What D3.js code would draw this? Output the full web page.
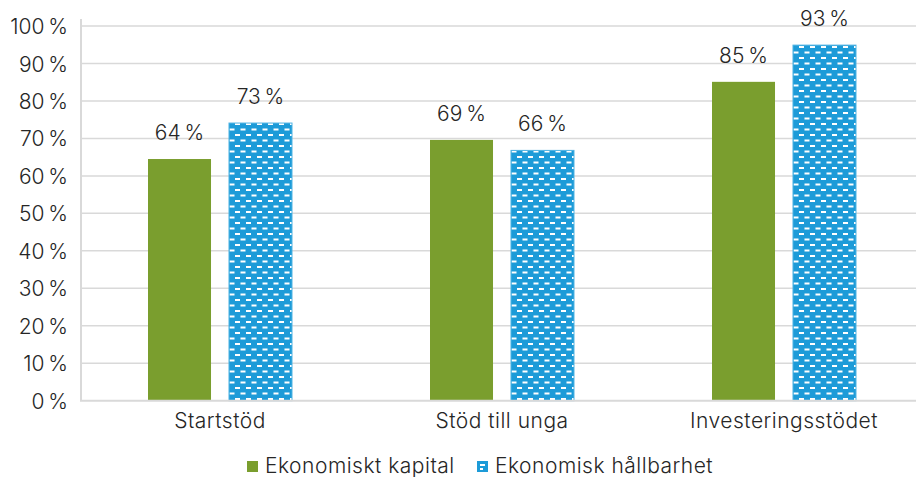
<!DOCTYPE html>
<html><head><meta charset="utf-8">
<script src="https://cdn.jsdelivr.net/npm/d3@7"></script>
<style>
html,body{margin:0;padding:0;background:#fff;}
svg{display:block;font-family:Inter,sans-serif;font-weight:300;}
</style></head>
<body>
<svg id="chart" width="916" height="477"></svg>
<script>
const categories = ["Startstöd", "Stöd till unga", "Investeringsstödet"];
const seriesNames = ["Ekonomiskt kapital", "Ekonomisk hållbarhet"];
const kapitalValues = [64.5, 69.6, 85.1];
const hallbarhetValues = [74.1, 66.8, 94.9];
const kapitalLabels = ["64\u202F%", "69\u202F%", "85\u202F%"];
const hallbarhetLabels = ["73\u202F%", "66\u202F%", "93\u202F%"];
const yTicks = [0, 10, 20, 30, 40, 50, 60, 70, 80, 90, 100];

const FONT = "Inter, sans-serif", FS = 21, LS = 0.5;
const svg = d3.select("#chart");
const green = "#7a9e2e", blue = "#1d9bd8", txt = "#262626", grid = "#d9d9d9";

const defs = svg.append("defs");
const pat = defs.append("pattern").attr("id", "dash").attr("patternUnits", "userSpaceOnUse")
  .attr("width", 11).attr("height", 11);
pat.append("rect").attr("width", 11).attr("height", 11).attr("fill", blue);
pat.append("rect").attr("x", 2).attr("y", 2).attr("width", 5).attr("height", 2).attr("fill", "#fff");
pat.append("rect").attr("x", 7.5).attr("y", 7.5).attr("width", 5).attr("height", 2).attr("fill", "#fff");
pat.append("rect").attr("x", -3.5).attr("y", 7.5).attr("width", 5).attr("height", 2).attr("fill", "#fff");

const x0 = d3.scaleBand().domain(categories).range([79, 925]).paddingInner(0).paddingOuter(0);
const x1 = d3.scaleBand().domain(seriesNames).range([69, 213]).paddingInner(0.222).paddingOuter(0);
const y = d3.scaleLinear().domain([0, 100]).range([400.7, 26]);

// gridlines
svg.append("g").selectAll("line").data(yTicks.filter(d => d > 0)).join("line")
  .attr("x1", 81).attr("x2", 916).attr("y1", d => y(d)).attr("y2", d => y(d))
  .attr("stroke", grid).attr("stroke-width", 1.5);

// y axis labels
const yAxis = d3.axisLeft(y).tickValues(yTicks).tickFormat(d => d + "\u202F%").tickSize(0).tickPadding(0);
const ya = svg.append("g").attr("transform", "translate(68,0)").call(yAxis);
ya.select(".domain").remove();
ya.selectAll("text").attr("font-size", FS).attr("fill", txt).attr("font-family", FONT)
  .attr("font-weight", 300).attr("letter-spacing", LS).attr("dy", "0.36em");

const data = categories.map((c, i) => ({cat: c, vals: [
  {s: seriesNames[0], v: kapitalValues[i], label: kapitalLabels[i]},
  {s: seriesNames[1], v: hallbarhetValues[i], label: hallbarhetLabels[i]}
]}));

const g = svg.append("g").selectAll("g").data(data).join("g")
  .attr("transform", d => `translate(${x0(d.cat)},0)`);
g.selectAll("rect").data(d => d.vals).join("rect")
  .attr("x", d => x1(d.s)).attr("width", x1.bandwidth())
  .attr("y", d => y(d.v)).attr("height", d => y(0) - y(d.v))
  .attr("fill", d => d.s === seriesNames[0] ? green : "url(#dash)")
  .attr("stroke", d => d.s === seriesNames[0] ? "none" : "#4fb3e3")
  .attr("stroke-width", 1);
g.selectAll("text").data(d => d.vals).join("text")
  .attr("x", d => x1(d.s) + x1.bandwidth() / 2).attr("y", d => y(d.v) - 19)
  .attr("text-anchor", "middle").attr("font-size", FS).attr("letter-spacing", LS).attr("fill", txt)
  .text(d => d.label);

// axis lines
svg.append("line").attr("x1", 81).attr("x2", 81).attr("y1", 19).attr("y2", y(0))
  .attr("stroke", grid).attr("stroke-width", 2);
svg.append("line").attr("x1", 80).attr("x2", 916).attr("y1", y(0)).attr("y2", y(0))
  .attr("stroke", grid).attr("stroke-width", 2);

// x axis labels
const xAxis = d3.axisBottom(x0).tickSize(0).tickPadding(0);
const xa = svg.append("g").attr("transform", "translate(0,428)").call(xAxis);
xa.select(".domain").remove();
xa.selectAll("text").attr("font-size", FS).attr("fill", txt).attr("font-family", FONT)
  .attr("font-weight", 300).attr("letter-spacing", LS).attr("dy", 0);

// legend
const legend = svg.append("g");
const legItems = [{name: seriesNames[0], fill: green, x: 247}, {name: seriesNames[1], fill: "url(#dash)", x: 477}];
const li = legend.selectAll("g").data(legItems).join("g").attr("transform", d => `translate(${d.x},461)`);
li.append("rect").attr("width", 11).attr("height", 11).attr("fill", d => d.fill === green ? green : blue);
li.filter(d => d.fill !== green).append("rect").attr("x", 3).attr("y", 3).attr("width", 5).attr("height", 2).attr("fill", "#fff");
li.filter(d => d.fill !== green).append("rect").attr("x", 3).attr("y", 7).attr("width", 3).attr("height", 2).attr("fill", "#fff");
li.append("text").attr("x", 18).attr("y", 12).attr("font-size", FS).attr("letter-spacing", LS).attr("fill", txt).text(d => d.name);
</script>
</body></html>
